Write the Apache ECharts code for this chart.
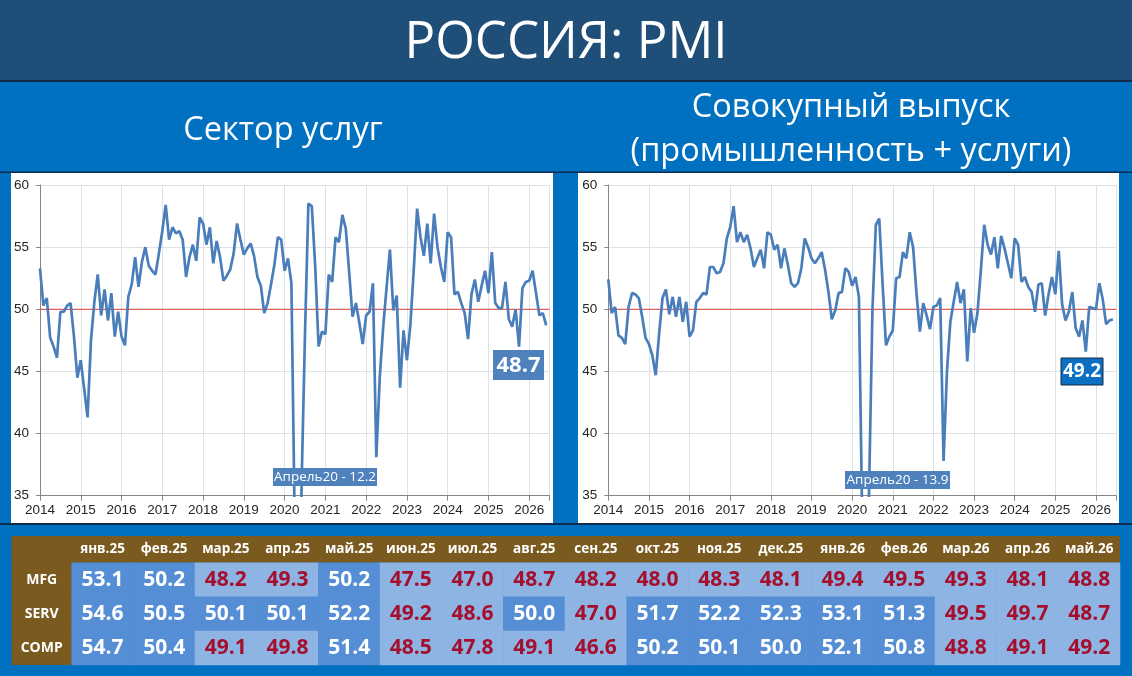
<!DOCTYPE html>
<html><head><meta charset="utf-8">
<script src="https://cdn.jsdelivr.net/npm/echarts@6/dist/echarts.min.js"></script>
<style>html,body{margin:0;padding:0;background:#0070c0}#c{width:1132px;height:676px}</style>
</head><body><div id="c"></div>
<script>
// ---------- texts ----------
const mainTitle = 'РОССИЯ: PMI';
const leftTitle = 'Сектор услуг';
const rightTitle = ['Совокупный выпуск', '(промышленность + услуги)'];
const aprilLabel = 'Апрель20 - ';

// ---------- axes ----------
const yMin = 35, yMax = 60, yStep = 5;
const xMin = 2014, xMax = 2026.5, xStep = 1;
const refLevel = 50;
// first value = Dec 2013, plotted at month end (2014.0); one value per month up to May 2026
const firstMonthEnd = 2014;
const aprIdx = 76; // Apr 2020 position in the arrays

// ---------- Services PMI (Dec 2013 .. May 2026) ----------
const servicesPMI = [
  53.3,
  50.3, 50.9, 47.7, 47.0, 46.1, 49.8, 49.8, 50.3, 50.5, 47.8, 44.5, 45.9,
  43.6, 41.3, 47.5, 50.6, 52.8, 49.5, 51.6, 49.1, 51.3, 47.8, 49.8, 47.8,
  47.1, 51.0, 52.0, 54.2, 51.8, 53.8, 55.0, 53.5, 53.1, 52.8, 54.5, 56.3,
  58.4, 55.6, 56.6, 56.1, 56.3, 55.6, 52.6, 54.2, 55.2, 53.9, 57.4, 56.9,
  55.2, 56.6, 53.7, 55.5, 54.2, 52.3, 52.7, 53.2, 54.5, 56.9, 55.6, 54.4,
  54.9, 55.3, 54.3, 52.6, 51.9, 49.7, 50.5, 52.0, 53.6, 55.8, 55.6, 53.1,
  54.1, 52.1, 32.2, 12.2, 35.9, 48.0, 58.5, 58.3, 53.5, 47.0, 48.2, 48.0,
  52.8, 52.2, 55.8, 55.4, 57.6, 56.5, 53.0, 49.4, 50.5, 48.9, 47.2, 49.5,
  49.8, 52.1, 38.1, 44.5, 48.5, 51.7, 54.8, 49.9, 51.1, 43.7, 48.3, 45.9,
  48.7, 53.1, 58.1, 55.8, 54.3, 56.9, 53.7, 57.7, 55.0, 53.4, 52.2, 56.2,
  55.8, 51.2, 51.4, 50.5, 49.7, 47.6, 51.2, 52.4, 50.6, 51.9, 53.1, 51.3,
  54.6, 50.5, 50.1, 50.1, 52.2, 49.2, 48.6, 50.0, 47.0, 51.7, 52.2, 52.3,
  53.1, 51.3, 49.5, 49.7, 48.7
];

// ---------- Composite PMI (Dec 2013 .. May 2026) ----------
const compositePMI = [
  52.4,
  49.7, 50.2, 47.9, 47.7, 47.2, 50.2, 51.3, 51.2, 50.9, 49.4, 47.7, 47.2,
  46.3, 44.7, 48.0, 50.9, 51.6, 49.6, 51.0, 49.4, 51.0, 49.0, 50.6, 47.8,
  48.3, 50.6, 50.9, 51.3, 51.2, 53.4, 53.4, 52.9, 53.0, 53.7, 55.7, 56.6,
  58.3, 55.4, 56.2, 55.4, 56.0, 54.9, 53.4, 54.1, 54.8, 53.3, 56.2, 56.0,
  54.8, 55.2, 53.3, 54.9, 53.6, 52.1, 51.8, 52.1, 53.3, 55.7, 55.0, 54.1,
  53.7, 54.1, 54.6, 53.2, 51.4, 49.2, 49.9, 51.3, 51.4, 53.3, 53.0, 51.9,
  52.6, 51.0, 32.5, 13.9, 35.5, 50.0, 56.8, 57.3, 52.0, 47.1, 47.8, 48.3,
  52.5, 52.6, 54.6, 54.1, 56.2, 55.0, 51.3, 48.2, 50.5, 49.5, 48.4, 50.2,
  50.3, 50.9, 37.8, 45.0, 49.0, 50.6, 52.2, 50.5, 51.6, 45.8, 50.1, 48.1,
  49.7, 53.1, 56.8, 55.2, 54.4, 55.8, 53.3, 55.9, 54.9, 53.7, 52.5, 55.7,
  55.2, 52.2, 52.6, 51.8, 51.4, 49.8, 52.0, 52.1, 49.5, 51.2, 52.6, 51.2,
  54.7, 50.4, 49.1, 49.8, 51.4, 48.5, 47.8, 49.1, 46.6, 50.2, 50.1, 50.0,
  52.1, 50.8, 48.8, 49.1, 49.2
];

// ---------- table ----------
const tableMonths = ['янв.25','фев.25','мар.25','апр.25','май.25','июн.25','июл.25','авг.25','сен.25',
  'окт.25','ноя.25','дек.25','янв.26','фев.26','мар.26','апр.26','май.26'];
const tableRowNames = ['MFG', 'SERV', 'COMP'];
const mfgPMI = [53.1, 50.2, 48.2, 49.3, 50.2, 47.5, 47.0, 48.7, 48.2, 48.0, 48.3, 48.1, 49.4, 49.5, 49.3, 48.1, 48.8];

// ---------- build ----------
const toPts = arr => arr.map((v, i) => [firstMonthEnd + i / 12, v]);
const nT = tableMonths.length;
const tableRows = [mfgPMI, servicesPMI.slice(-nT), compositePMI.slice(-nT)];
const heat = [];
tableRows.forEach((row, r) => row.forEach((v, c) => {
  const up = v >= refLevel;
  heat.push({ value: [c, r, v], itemStyle: { color: up ? '#558ed5' : '#8db4e2' },
    label: { color: up ? '#ffffff' : '#a50e2d' } });
}));

const axisFont = 'Liberation Sans, Arial, sans-serif';
const uiFont = 'Open Sans, Noto Sans, sans-serif';

function xAx(gi) {
  return { type: 'value', gridIndex: gi, min: xMin, max: xMax, interval: xStep,
    axisLine: { show: true, onZero: false, lineStyle: { color: '#868686', width: 1 } },
    axisTick: { show: true, length: 5, lineStyle: { color: '#868686' } },
    axisLabel: { color: '#262626', fontSize: 13.5, fontFamily: axisFont, margin: 8,
      formatter: v => (Number.isInteger(v) ? String(v) : '') },
    splitLine: { show: true, lineStyle: { color: '#dde2e8', width: 1 } } };
}
function yAx(gi) {
  return { type: 'value', gridIndex: gi, min: yMin, max: yMax, interval: yStep,
    axisLine: { show: true, lineStyle: { color: '#868686', width: 1 } },
    axisTick: { show: true, length: 4, lineStyle: { color: '#868686' } },
    axisLabel: { color: '#262626', fontSize: 13.5, fontFamily: axisFont, margin: 11 },
    splitLine: { show: true, lineStyle: { color: '#dde2e8', width: 1 } } };
}
function lineSeries(arr, i) {
  return { type: 'line', xAxisIndex: i, yAxisIndex: i, data: toPts(arr), showSymbol: false,
    clip: true, silent: true, animation: false,
    lineStyle: { color: '#4a7ebb', width: 2.7 }, z: 3 };
}
function refSeries(i) {
  return { type: 'line', xAxisIndex: i, yAxisIndex: i, data: [[xMin, refLevel], [xMax, refLevel]],
    showSymbol: false, silent: true, animation: false, z: 2,
    itemStyle: { color: '#e0504f' },
    lineStyle: { color: '#e0504f', width: 1.2, type: 'solid', opacity: 0.9 } };
}

const bg = [
  { type: 'rect', z: -10, shape: { x: 0, y: 0, width: 1132, height: 80 }, style: { fill: '#1f4e79' } },
  { type: 'rect', z: -9, shape: { x: 0, y: 80, width: 1132, height: 2 }, style: { fill: '#0f2a47' } },
  { type: 'rect', z: -9, shape: { x: 0, y: 171.5, width: 1132, height: 1.5 }, style: { fill: '#0d2c4e' } },
  { type: 'rect', z: -9, shape: { x: 11, y: 173, width: 542, height: 350 }, style: { fill: '#ffffff' } },
  { type: 'rect', z: -9, shape: { x: 578, y: 173, width: 541, height: 350 }, style: { fill: '#ffffff' } },
  { type: 'rect', z: -9, shape: { x: 0, y: 523, width: 1132, height: 2 }, style: { fill: '#0d2c4e' } },
  { type: 'rect', z: -9, shape: { x: 11.7, y: 536, width: 1108.3, height: 26.7 }, style: { fill: '#7b5a1f' } },
  { type: 'rect', z: -9, shape: { x: 11.7, y: 536, width: 60, height: 129 }, style: { fill: '#7b5a1f' } },
  { type: 'text', z: 10, x: 566, y: 43, style: { text: mainTitle, fill: '#ffffff', font: '51px ' + uiFont, textAlign: 'center', textVerticalAlign: 'middle' } },
  { type: 'text', z: 10, x: 283, y: 131, style: { text: leftTitle, fill: '#ffffff', font: '32.5px ' + uiFont, textAlign: 'center', textVerticalAlign: 'middle' } },
  { type: 'text', z: 10, x: 851, y: 108, style: { text: rightTitle[0], fill: '#ffffff', font: '32.5px ' + uiFont, textAlign: 'center', textVerticalAlign: 'middle' } },
  { type: 'text', z: 10, x: 851, y: 152, style: { text: rightTitle[1], fill: '#ffffff', font: '32.5px ' + uiFont, textAlign: 'center', textVerticalAlign: 'middle' } },
  // annotations
  { type: 'rect', z: 50, shape: { x: 273, y: 468, width: 104, height: 18 }, style: { fill: '#4f81bd' } },
  { type: 'text', z: 51, x: 325, y: 477.5, style: { text: aprilLabel + servicesPMI[aprIdx].toFixed(1), fill: '#ffffff', font: '13.5px ' + uiFont, textAlign: 'center', textVerticalAlign: 'middle' } },
  { type: 'rect', z: 50, shape: { x: 845, y: 471, width: 105, height: 18 }, style: { fill: '#4f81bd' } },
  { type: 'text', z: 51, x: 897.5, y: 480.5, style: { text: aprilLabel + compositePMI[aprIdx].toFixed(1), fill: '#ffffff', font: '13.5px ' + uiFont, textAlign: 'center', textVerticalAlign: 'middle' } },
  { type: 'rect', z: 50, shape: { x: 493, y: 350, width: 51, height: 30 }, style: { fill: '#4f81bd' } },
  { type: 'text', z: 51, x: 518.5, y: 365.5, style: { text: servicesPMI[servicesPMI.length - 1].toFixed(1), fill: '#ffffff', font: 'bold 22px ' + uiFont, textAlign: 'center', textVerticalAlign: 'middle' } },
  { type: 'rect', z: 50, shape: { x: 1061, y: 358, width: 42, height: 27 }, style: { fill: '#0b6fc4', stroke: '#1b2b40', lineWidth: 1 } },
  { type: 'text', z: 51, x: 1082, y: 372, style: { text: compositePMI[compositePMI.length - 1].toFixed(1), fill: '#ffffff', font: 'bold 19px ' + uiFont, textAlign: 'center', textVerticalAlign: 'middle' } }
];

const chart = echarts.init(document.getElementById('c'), null, { renderer: 'canvas' });
chart.setOption({
  animation: false,
  backgroundColor: '#0070c0',
  graphic: { elements: bg },
  grid: [
    { left: 40, right: 1132 - 549.6, top: 185, bottom: 676 - 495.7, outerBoundsMode: 'none' },
    { left: 608.3, right: 1132 - 1116.3, top: 185, bottom: 676 - 495.7, outerBoundsMode: 'none' },
    { left: 71.7, top: 562.7, width: 1048.3, height: 102.3, outerBoundsMode: 'none' }
  ],
  xAxis: [xAx(0), xAx(1),
    { type: 'category', gridIndex: 2, data: tableMonths, position: 'top',
      axisLine: { show: false }, axisTick: { show: false }, splitLine: { show: false },
      axisLabel: { interval: 0, color: '#ffffff', fontWeight: 'bold', fontSize: 13.5, fontFamily: uiFont, margin: 7 } }],
  yAxis: [yAx(0), yAx(1),
    { type: 'category', gridIndex: 2, data: tableRowNames, inverse: true,
      axisLine: { show: false }, axisTick: { show: false }, splitLine: { show: false },
      axisLabel: { align: 'center', margin: 30, color: '#ffffff', fontWeight: 'bold', fontSize: 14, fontFamily: uiFont } }],
  series: [
    refSeries(0),
    refSeries(1),
    lineSeries(servicesPMI, 0),
    lineSeries(compositePMI, 1),
    { type: 'heatmap', xAxisIndex: 2, yAxisIndex: 2, data: heat, silent: true,
      itemStyle: { borderWidth: 0 },
      label: { show: true, fontSize: 21, fontWeight: 'bold', fontFamily: uiFont,
        formatter: p => p.value[2].toFixed(1) },
      emphasis: { disabled: true } }
  ]
});
</script></body></html>
